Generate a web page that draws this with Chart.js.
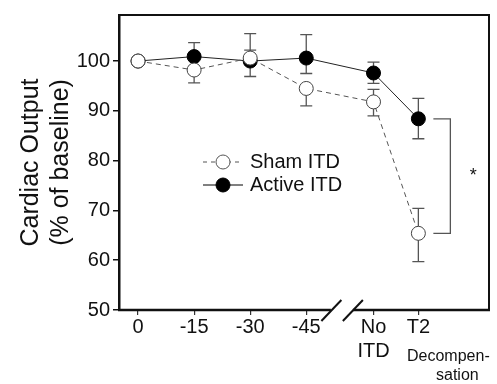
<!DOCTYPE html>
<html>
<head>
<meta charset="utf-8">
<script src="https://cdn.jsdelivr.net/npm/chart.js@4"></script>
<style>
  body { margin: 0; background: #fff; }
  canvas { display: block; }
</style>
</head>
<body>
<canvas id="grafico" width="497" height="384"></canvas>
<script>
    const etiquetas = ['0', '-15', '-30', '-45', ['No', 'ITD'], 'T2'];
    const posiciones = [0, 1, 2, 3, 4.2, 5];
    const ticksY = [50, 60, 70, 80, 90, 100];

    const sham = [100, 98.2, 100.6, 94.5, 91.8, 65.4];
    const shamSup = [null, null, 102.2, null, 94.3, 70.4];
    const shamInf = [null, 95.6, null, 91, 89, 59.7];

    const activo = [100, 100.9, 100, 100.6, 97.6, 88.4];
    const activoSup = [null, 103.7, 105.5, 105.3, 99.8, 92.5];
    const activoInf = [null, null, 96.9, 97.5, 95.5, 84.4];

    const fuente = 'Arial, "Liberation Sans", sans-serif';

    function puntos(valores) {
      return valores.map((v, i) => ({ x: posiciones[i], y: v }));
    }

    /* ------------------ BARRAS DE ERROR ------------------ */
    const errores = [
      { sup: shamSup, inf: shamInf, color: '#555' },
      { sup: activoSup, inf: activoInf, color: '#555' }
    ];

    const pluginErrores = {
      id: 'errores',
      beforeDatasetsDraw(chart) {
        const ctx = chart.ctx;
        const y = chart.scales.y;
        errores.forEach((e, ds) => {
          const meta = chart.getDatasetMeta(ds);
          meta.data.forEach((p, i) => {
            ctx.save();
            ctx.strokeStyle = e.color;
            ctx.lineWidth = 1.3;
            [e.sup[i], e.inf[i]].forEach(v => {
              if (v === null) return;
              const py = y.getPixelForValue(v);
              ctx.beginPath();
              ctx.moveTo(p.x, p.y);
              ctx.lineTo(p.x, py);
              ctx.moveTo(p.x - 6, py);
              ctx.lineTo(p.x + 6, py);
              ctx.stroke();
            });
            ctx.restore();
          });
        });
      }
    };

    /* ------------------ MARCO, CORTE, LEYENDA ------------------ */
    const pluginExtras = {
      id: 'extras',
      afterDraw(chart) {
        const ctx = chart.ctx;
        const a = chart.chartArea;
        const x = chart.scales.x;
        const y = chart.scales.y;
        ctx.save();

        // marco superior y derecho
        ctx.strokeStyle = '#111';
        ctx.lineWidth = 2;
        ctx.beginPath();
        ctx.moveTo(a.left, a.top);
        ctx.lineTo(a.right, a.top);
        ctx.lineTo(a.right, a.bottom);
        ctx.stroke();

        // eje x con corte
        const corte = x.getPixelForValue(3.6);
        ctx.lineWidth = 2.5;
        ctx.beginPath();
        ctx.moveTo(a.left - 1, a.bottom);
        ctx.lineTo(corte - 9, a.bottom);
        ctx.moveTo(corte + 13, a.bottom);
        ctx.lineTo(a.right + 1, a.bottom);
        ctx.stroke();
        ctx.lineWidth = 2;
        [-8.5, 13].forEach(d => {
          ctx.beginPath();
          ctx.moveTo(corte + d - 10, a.bottom + 11);
          ctx.lineTo(corte + d + 10, a.bottom - 10);
          ctx.stroke();
        });

        // texto extra bajo T2
        const xt2 = x.getPixelForValue(5);
        ctx.fillStyle = '#111';
        ctx.font = '16px ' + fuente;
        ctx.textAlign = 'center';
        ctx.textBaseline = 'middle';
        ctx.fillText('Decompen-', xt2 + 30, 357);
        ctx.fillText('sation', xt2 + 39, 376);

        // corchete de significancia
        const ya = y.getPixelForValue(activo[5]);
        const ys = y.getPixelForValue(sham[5]);
        ctx.strokeStyle = '#555';
        ctx.lineWidth = 1.3;
        ctx.beginPath();
        ctx.moveTo(xt2 + 15, ya);
        ctx.lineTo(xt2 + 32, ya);
        ctx.lineTo(xt2 + 32, ys);
        ctx.lineTo(xt2 + 15, ys);
        ctx.stroke();
        ctx.font = '18px ' + fuente;
        ctx.fillText('*', xt2 + 55, (ya + ys) / 2);

        // leyenda
        const filas = [
          { texto: 'Sham ITD', y: 162, dash: [4, 4], relleno: '#fff', borde: '#555' },
          { texto: 'Active ITD', y: 185, dash: [], relleno: '#000', borde: '#000' }
        ];
        filas.forEach(f => {
          ctx.strokeStyle = f.borde;
          ctx.lineWidth = 1;
          ctx.setLineDash(f.dash);
          ctx.beginPath();
          ctx.moveTo(203, f.y);
          ctx.lineTo(243, f.y);
          ctx.stroke();
          ctx.setLineDash([]);
          ctx.beginPath();
          ctx.arc(223, f.y, 7, 0, Math.PI * 2);
          ctx.fillStyle = f.relleno;
          ctx.fill();
          ctx.stroke();
          ctx.fillStyle = '#111';
          ctx.font = '20px ' + fuente;
          ctx.textAlign = 'left';
          ctx.fillText(f.texto, 250, f.y);
        });

        ctx.restore();
      }
    };

    const ctxGrafico = document.getElementById('grafico').getContext('2d');
    const grafico = new Chart(ctxGrafico, {
      type: 'line',
      data: {
        datasets: [
          {
            label: 'Sham ITD',
            data: puntos(sham),
            borderColor: '#555',
            borderWidth: 1,
            borderDash: [5, 4],
            pointRadius: 7,
            pointBackgroundColor: '#fff',
            pointBorderColor: '#444',
            pointBorderWidth: 1,
            tension: 0
          },
          {
            label: 'Active ITD',
            data: puntos(activo),
            borderColor: '#222',
            borderWidth: 1,
            pointRadius: 7,
            pointBackgroundColor: '#000',
            pointBorderColor: '#000',
            pointBorderWidth: 1,
            tension: 0
          }
        ]
      },
      options: {
        responsive: false,
        animation: false,
        layout: { padding: { top: 9, right: 4, left: 0, bottom: 0 } },
        plugins: { legend: { display: false }, tooltip: { enabled: false } },
        scales: {
          x: {
            type: 'linear',
            min: -0.34,
            max: 6.26,
            afterBuildTicks: axis => { axis.ticks = posiciones.map(v => ({ value: v })); },
            afterFit: axis => { axis.height = 74; },
            border: { display: false },
            grid: { drawOnChartArea: false, drawTicks: true, tickLength: 5, color: '#333', lineWidth: 1.2 },
            ticks: {
              color: '#111',
              padding: 0,
              maxRotation: 0,
              autoSkip: false,
              font: { family: fuente, size: 20 },
              callback: (v, i) => etiquetas[i]
            }
          },
          y: {
            min: 50,
            max: 109.25,
            afterBuildTicks: axis => { axis.ticks = ticksY.map(v => ({ value: v })); },
            afterFit: axis => { axis.width = 119; },
            border: { display: true, color: '#111', width: 2.5 },
            grid: { drawOnChartArea: false, drawTicks: true, tickLength: 6, color: '#111', lineWidth: 1.5 },
            ticks: {
              color: '#111',
              padding: 3,
              font: { family: fuente, size: 20 }
            },
            title: {
              display: true,
              text: ['Cardiac Output', '(% of baseline)'],
              color: '#111',
              font: { family: fuente, size: 25 },
              padding: { top: 16, bottom: 0 }
            }
          }
        }
      },
      plugins: [pluginErrores, pluginExtras]
    });
</script>
</body>
</html>
